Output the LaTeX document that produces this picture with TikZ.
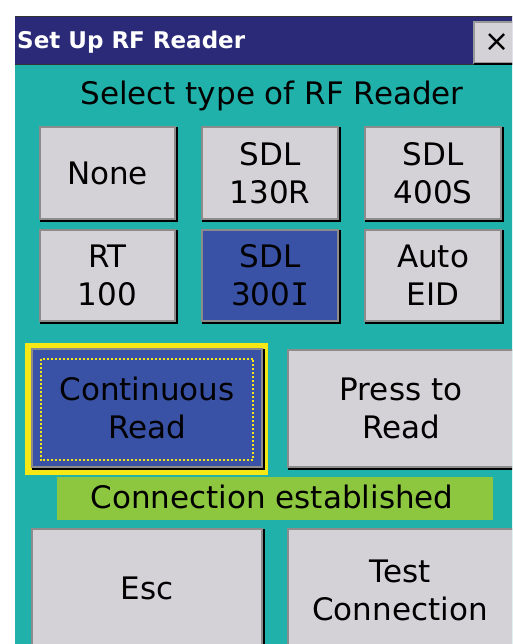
\documentclass[tikz,border=0pt]{standalone}
\usepackage{fontspec}
\setmainfont{DejaVu Sans}
\newfontfamily\boldui{DejaVu Sans Bold}
\newfontfamily\monoui{DejaVu Sans Mono}
\definecolor{teal1}{RGB}{32,178,170}
\definecolor{navy1}{RGB}{42,42,120}
\definecolor{btngray}{RGB}{212,210,215}
\definecolor{btnblue}{RGB}{58,82,165}
\definecolor{yel}{RGB}{245,232,20}
\definecolor{grn}{RGB}{141,198,63}
\begin{document}
\begin{tikzpicture}[x=1pt,y=-1pt,
  uitext/.style={font=\fontsize{31}{38}\selectfont, text=black},
  btn/.style={uitext, anchor=north west, inner sep=0pt, outer sep=0pt,
    fill=btngray, draw=black!45, line width=1.5pt, align=center},
  bluebtn/.style={btn, fill=btnblue},
]
\useasboundingbox (0,0) rectangle (512,644);
\begin{scope}
\clip (0,0) rectangle (512,644);
\fill[white] (0,0) rectangle (512,644);
% window body
\fill[teal1] (15,64) rectangle (520,650);
% title bar
\fill[navy1] (15,16) rectangle (520,64);
\draw[black!80, line width=1.5pt] (15,16.5) -- (520,16.5);
\draw[black!80, line width=1.5pt] (15,64.5) -- (520,64.5);
\node[anchor=west, inner sep=0pt, text=white,
  font=\boldui\fontsize{23}{26}\selectfont] (title) at (17,42) {Set Up RF Reader};
\node[anchor=north west, inner sep=0pt, outer sep=0pt, minimum width=42pt,
  minimum height=41pt, fill=btngray, draw=black!40, line width=1.5pt] (close) at (474,22) {};
\node[font=\fontsize{30}{30}\selectfont, inner sep=0pt] (closex) at (497,43) {×};

\node[uitext] (heading) at (272,96) {Select type of RF Reader};

% row 1
\node[btn, minimum width=135pt, minimum height=92pt] (none) at (40,127) {None};
\node[btn, minimum width=136pt, minimum height=92pt] (s130) at (202,127) {SDL\\130R};
\node[btn, minimum width=136pt, minimum height=92pt] (s400) at (365,127) {SDL\\400S};
% row 2
\node[btn, minimum width=135pt, minimum height=91pt] (rt) at (40,230) {RT\\100};
\node[bluebtn, minimum width=136pt, minimum height=91pt] (s300) at (202,230) {SDL\\300{\monoui I}};
\node[btn, minimum width=136pt, minimum height=91pt] (auto) at (365,230) {Auto\\EID};

% focus + mode buttons
\fill[yel] (25,343) rectangle (268,475);
\node[bluebtn, minimum width=230pt, minimum height=118pt] (cont) at (32,349) {Continuous\\Read};
\draw[yel, line width=2pt, dotted] (40.5,358.5) rectangle (253,460);
\node[btn, minimum width=226pt, minimum height=117pt] (press) at (288,350) {Press to\\Read};

% status
\node[uitext, anchor=north west, fill=grn, minimum width=436pt, minimum height=43pt,
  inner sep=0pt] (status) at (57,477) {};
\node[uitext] (statustext) at (272,497) {Connection established};

% bottom row
\node[btn, minimum width=230pt, minimum height=125pt] (esc) at (32,529) {};
\node[uitext] (esctext) at (147,588) {Esc};
\node[btn, minimum width=226pt, minimum height=125pt] (test) at (288,529) {};
\node[uitext, align=center] (testtext) at (400,590) {Test\\Connection};

% dark bottom/right edges
\foreach \n in {none,s130,s400,rt,s300,auto,cont,press,esc,test,close}{
  \draw[black, line width=2pt] ([xshift=1.5pt]\n.north east) -- ([xshift=1.5pt,yshift=-1.5pt]\n.south east) -- ([yshift=-1.5pt]\n.south west);
}
\end{scope}
\end{tikzpicture}
\end{document}
